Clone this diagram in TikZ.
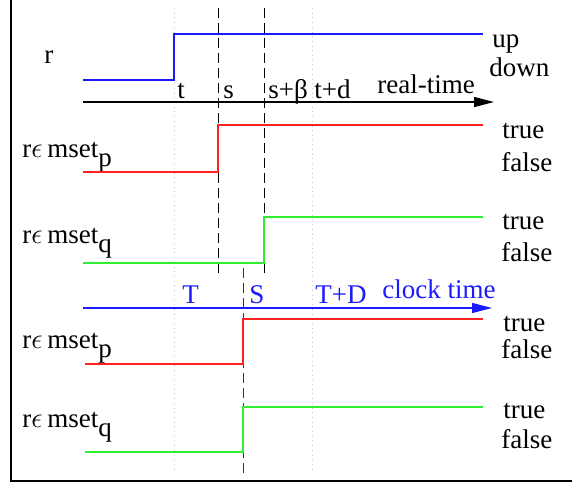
\documentclass[tikz,border=0pt]{standalone}
\usepackage{fontspec}
\setmainfont{Liberation Serif}
\usepackage{tikz}
\usetikzlibrary{arrows.meta}
\definecolor{sigblue}{HTML}{1A1AFF}
\definecolor{sigred}{HTML}{FF2020}
\definecolor{siggreen}{HTML}{30EE30}
\newcommand{\inmset}[1]{r$\epsilon$\,mset\raisebox{-0.35em}{#1}}

\begin{document}
\begin{tikzpicture}[x=0.5pt, y=-0.5pt,
  font=\fontsize{13.5}{16}\selectfont,
  sig/.style={line width=0.7pt},
  lbl/.style={anchor=base west, inner sep=0pt},
  markline/.style={dash pattern=on 5pt off 2.5pt, line width=0.5pt},
  guide/.style={gray!45, dotted, line width=0.35pt},
  axis/.style={line width=0.7pt, -{Triangle[length=10pt, width=5pt]}}]
\clip (0,0) rectangle (572,484);
\useasboundingbox (0,0) rectangle (572,484);
\draw[line width=0.7pt] (11,-10) rectangle (590,481);
% guides
\draw[guide] (174,8) -- (174,472);
\draw[guide] (312,8) -- (312,472);
\draw[markline] (218,8) -- (218,273);
\draw[markline] (264,8) -- (264,273);
\draw[markline, sigblue] (243,268) -- (243,476);
% real time
\node[lbl] (r) at (44,63) {r};
\draw[sig, sigblue] (83,80) -- (174,80) -- (174,34) -- (483,34);
\node[lbl] (up) at (492,47) {up};
\node[lbl] (down) at (489,76) {down};
\coordinate (rt0) at (83,102);
\coordinate (rt1) at (494,102);
\draw[axis] (rt0) -- (rt1);
\node[lbl] (t) at (177,98) {t};
\node[lbl] (s) at (223,98) {s};
\node[lbl] (sb) at (268,98) {s+β};
\node[lbl] (td) at (314,98) {t+d};
\node[lbl] (realtime) at (377,93) {real-time};
\node[lbl] (mp) at (22,157) {\inmset{p}};
\draw[sig, sigred] (83,172) -- (218,172) -- (218,125) -- (483,125);
\node[lbl] (tp) at (502,138) {true};
\node[lbl] (fp) at (501,171) {false};
\node[lbl] (mq) at (22,243) {\inmset{q}};
\draw[sig, siggreen] (83,263) -- (264,263) -- (264,217) -- (483,217);
\node[lbl] (tq) at (502,229) {true};
\node[lbl] (fq) at (501,261) {false};
% clock time
\coordinate (ct0) at (83,308);
\coordinate (ct1) at (492,308);
\draw[axis, sigblue] (ct0) -- (ct1);
\node[lbl, text=sigblue] (T) at (182,303) {T};
\node[lbl, text=sigblue] (S) at (249,303) {S};
\node[lbl, text=sigblue] (TD) at (315,303) {T+D};
\node[lbl, text=sigblue] (clocktime) at (382,298) {clock time};
\node[lbl] (mp2) at (22,348) {\inmset{p}};
\draw[sig, sigred] (85,364) -- (243,364) -- (243,319) -- (483,319);
\node[lbl] (tp2) at (503,331) {true};
\node[lbl] (fp2) at (501,358) {false};
\node[lbl] (mq2) at (22,427) {\inmset{q}};
\draw[sig, siggreen] (85,452) -- (243,452) -- (243,407) -- (483,407);
\node[lbl] (tq2) at (503,418) {true};
\node[lbl] (fq2) at (501,448) {false};
\end{tikzpicture}
\end{document}
